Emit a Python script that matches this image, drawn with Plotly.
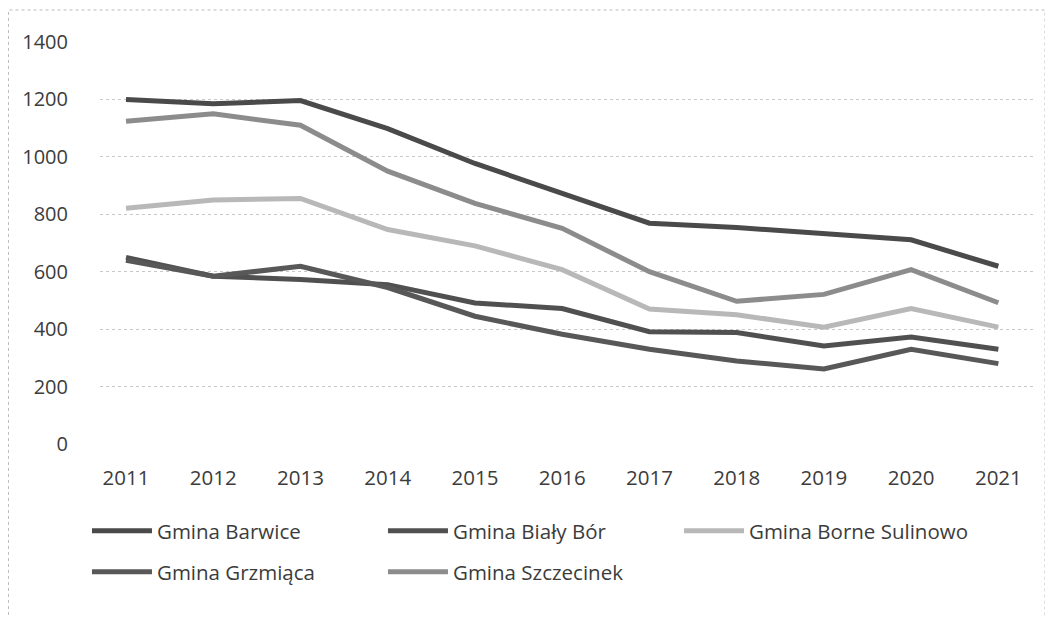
import plotly.graph_objects as go

years = ["2011", "2012", "2013", "2014", "2015", "2016", "2017", "2018", "2019", "2020", "2021"]
barwice = [1200, 1185, 1196, 1098, 977, 873, 769, 754, 734, 711, 619]
bialy_bor = [650, 584, 573, 555, 491, 472, 391, 388, 341, 373, 330]
borne_sulinowo = [821, 850, 855, 747, 690, 607, 470, 450, 407, 472, 407]
grzmiaca = [640, 584, 619, 545, 445, 382, 330, 289, 261, 330, 280]
szczecinek = [1124, 1150, 1110, 950, 838, 751, 600, 497, 521, 607, 492]

series = [
    ("Gmina Barwice", barwice, "#4a4a4a", "legend"),
    ("Gmina Biały Bór", bialy_bor, "#505050", "legend"),
    ("Gmina Borne Sulinowo", borne_sulinowo, "#b8b8b8", "legend"),
    ("Gmina Grzmiąca", grzmiaca, "#585858", "legend2"),
    ("Gmina Szczecinek", szczecinek, "#8c8c8c", "legend2"),
]

fig = go.Figure()
for name, vals, col, lg in series:
    fig.add_trace(go.Scatter(x=years, y=vals, mode="lines", name=name, legend=lg,
                             line=dict(color=col, width=5)))

font = "Open Sans, Lato, DejaVu Sans, sans-serif"
fs = 20.5
txt = "#3c3c3c"
leg_common = dict(orientation="h", xref="container", yref="container",
                  xanchor="left", yanchor="top",
                  entrywidth=221, entrywidthmode="pixels", itemwidth=60,
                  font=dict(family=font, size=fs, color=txt),
                  bgcolor="rgba(0,0,0,0)")
fig.update_layout(
    width=1053, height=617,
    margin=dict(l=92, r=26, t=34, b=181),
    paper_bgcolor="white", plot_bgcolor="white",
    font=dict(family=font, size=fs, color=txt),
    showlegend=True,
    legend=dict(x=0.075, y=0.1848, **leg_common),
    legend2=dict(x=0.075, y=0.1183, **leg_common),
    xaxis=dict(type="category", range=[-0.298, 10.42], showgrid=False, showline=False,
               ticks="", tickfont=dict(size=fs), ticklabelstandoff=19),
    yaxis=dict(range=[0, 1400], dtick=200, showgrid=True, gridcolor="#c8c8c8",
               griddash="dot", gridwidth=1, zeroline=False, showline=False,
               ticks="", tickfont=dict(size=fs - 0.5), ticklabelstandoff=31),
)
fig.add_shape(type="rect", xref="paper", yref="paper",
              x0=-0.0979, x1=1.0107, y0=-0.49, y1=1.0796,
              line=dict(color="#bbbbbb", width=1, dash="dot"), layer="below")
fig.write_html("out.html")
